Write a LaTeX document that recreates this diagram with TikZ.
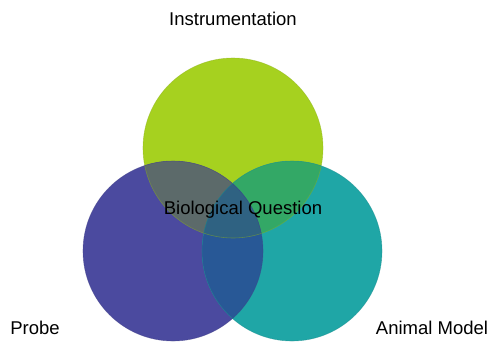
\documentclass[tikz,border=0pt]{standalone}
\usepackage{fontspec}
\setmainfont{Liberation Sans}
\usetikzlibrary{positioning}

\definecolor{instrgreen}{RGB}{166,209,31}
\definecolor{probeblue}{RGB}{75,74,159}
\definecolor{animalteal}{RGB}{31,166,166}
\definecolor{instrprobe}{RGB}{92,106,106}
\definecolor{instranimal}{RGB}{51,168,102}
\definecolor{probeanimal}{RGB}{40,88,150}
\definecolor{allthree}{RGB}{47,98,130}

\tikzset{
  label text/.style={font=\fontsize{18.5}{20}\selectfont, inner sep=0pt},
  set circle/.style={circle, minimum size=180pt, inner sep=0pt}
}

\begin{document}
\begin{tikzpicture}[x=1pt, y=-1pt]
    \useasboundingbox (0,0) rectangle (490,341);
    % the three sets
    \node[set circle, fill=instrgreen] (instr) at (233,148) {};
    \node[set circle, fill=probeblue] (probe) at (173,251) {};
    \node[set circle, fill=animalteal] (animal) at (292,251) {};
    % overlaps
    \begin{scope}
        \clip (instr.center) circle[radius=90pt];
        \fill[instrprobe] (probe.center) circle[radius=90pt];
        \fill[instranimal] (animal.center) circle[radius=90pt];
    \end{scope}
    \begin{scope}
        \clip (probe.center) circle[radius=90pt];
        \fill[probeanimal] (animal.center) circle[radius=90pt];
        \clip (instr.center) circle[radius=90pt];
        \fill[allthree] (animal.center) circle[radius=90pt];
    \end{scope}
    % outlines
    \draw[instrgreen!85!black, opacity=0.5, line width=0.6pt] (instr.center) circle[radius=90pt];
    \draw[probeblue!85!black, opacity=0.5, line width=0.6pt] (probe.center) circle[radius=90pt];
    \draw[animalteal!85!black, opacity=0.5, line width=0.6pt] (animal.center) circle[radius=90pt];
    % labels
    \node[label text] (instrlabel) at (233,19) {Instrumentation};
    \node[label text] (probelabel) at (35,328) {Probe};
    \node[label text] (animallabel) at (432,328) {Animal Model};
    \node[label text] (question) at (243,210) {Biological Question};
\end{tikzpicture}
\end{document}
